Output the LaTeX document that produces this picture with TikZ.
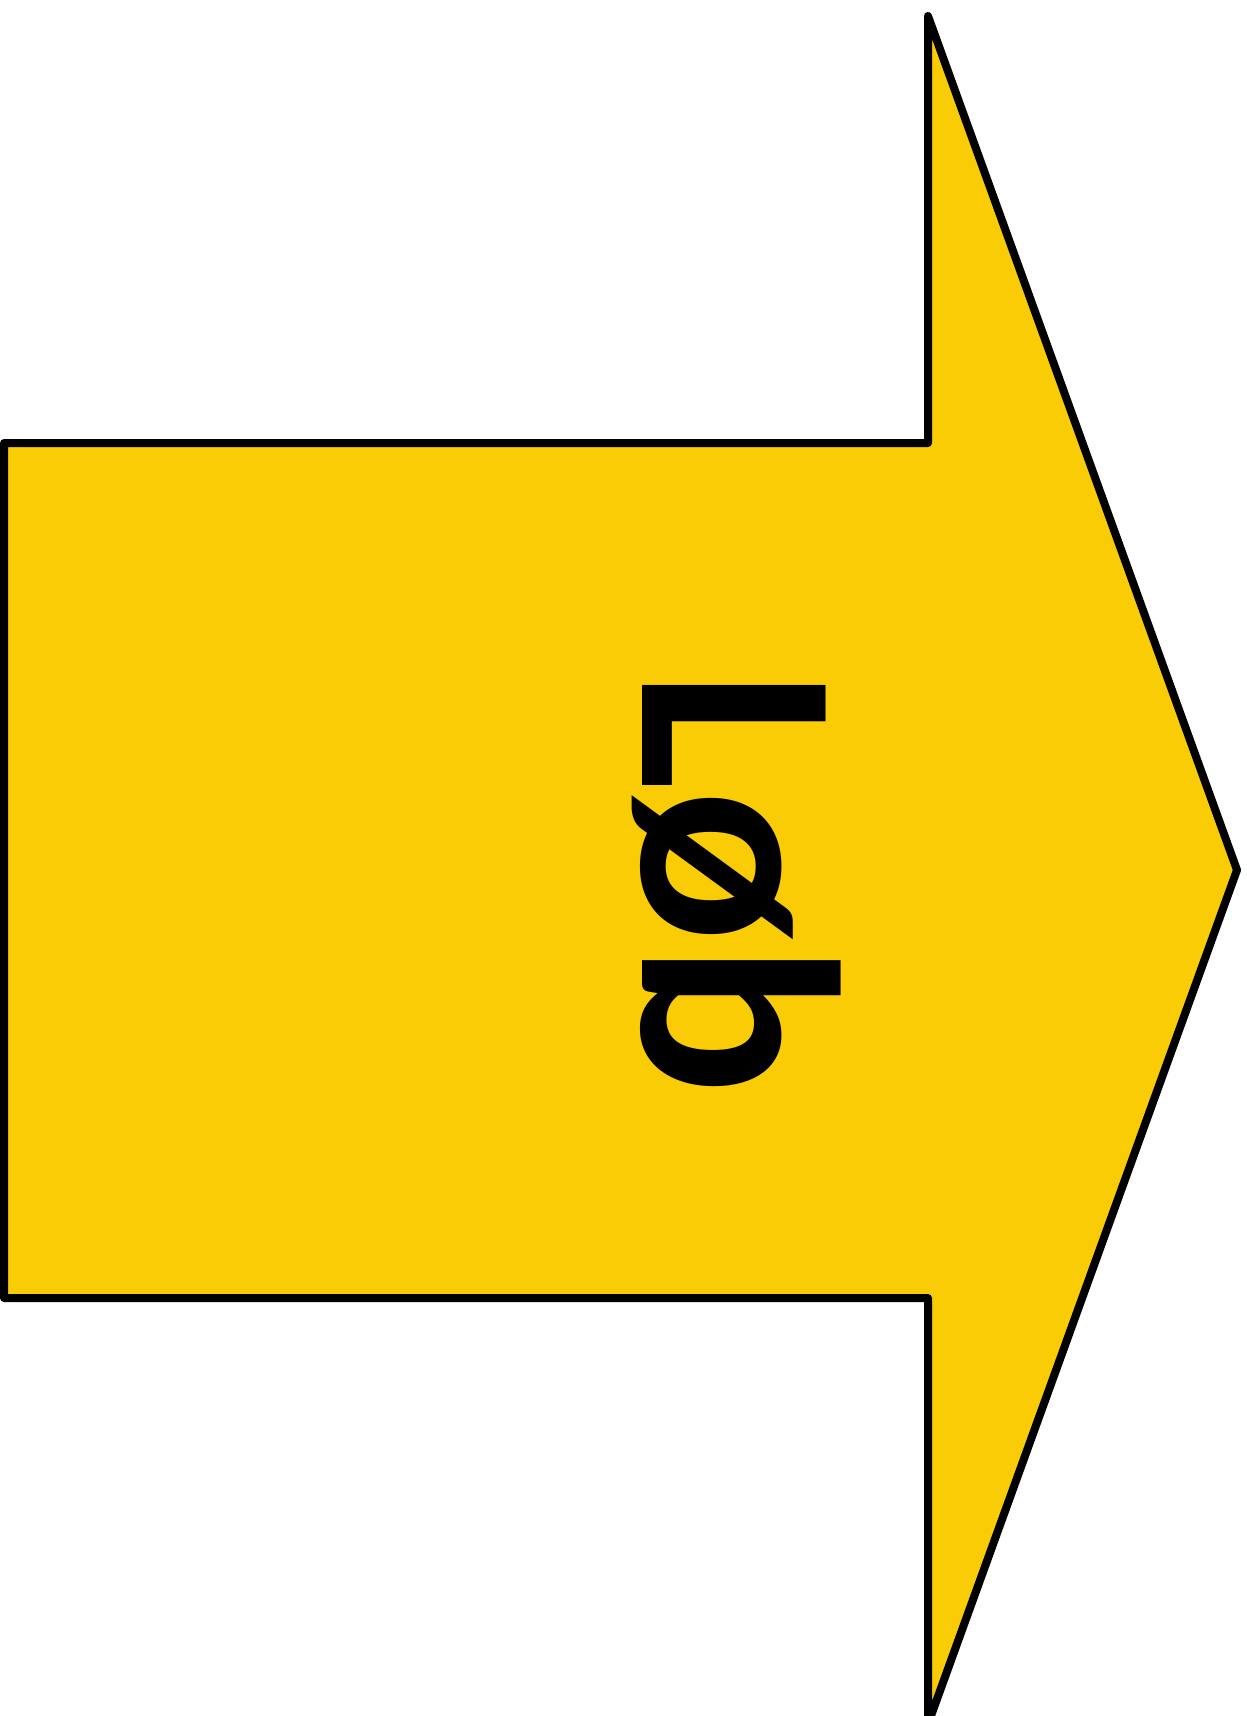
\documentclass[tikz,border=0pt]{standalone}
\usepackage{fontspec}
\newfontfamily\calfont{Carlito}
\definecolor{arrowyellow}{RGB}{249,204,5}
\begin{document}
\begin{tikzpicture}[x=1pt,y=-1pt,
  arrowshape/.style={fill=arrowyellow,draw=black,line width=8pt,line join=round},
  labeltext/.style={font=\calfont\bfseries\fontsize{283}{283}\selectfont,inner sep=0pt,rotate=-90,anchor=base west}]
\useasboundingbox (0,0) rectangle (1247,1716);
\clip (0,0) rectangle (1247,1716);
\coordinate (sTL) at (4,443);
\coordinate (sTR) at (928,443);
\coordinate (hT) at (928,16);
\coordinate (tip) at (1237,870);
\coordinate (hB) at (928,1724);
\coordinate (sBR) at (928,1298);
\coordinate (sBL) at (4,1298);
\draw[arrowshape] (sTL) -- (sTR) -- (hT) -- (tip) -- (hB) -- (sBR) -- (sBL) -- cycle;
\node[labeltext] (lbl) at (642,670) {Løb};
\end{tikzpicture}
\end{document}
